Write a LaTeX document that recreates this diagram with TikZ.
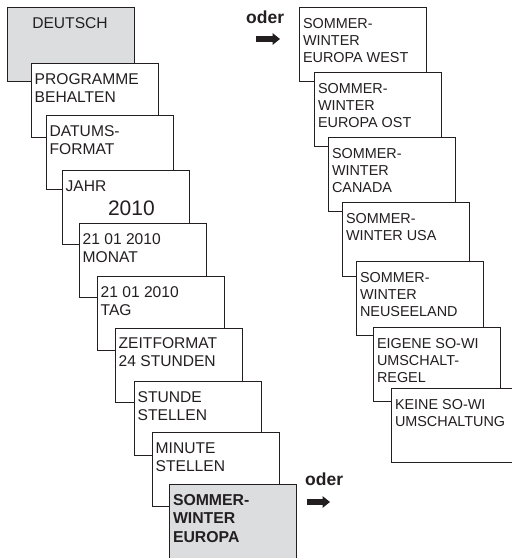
\documentclass[tikz,border=0pt]{standalone}
\usepackage{fontspec}
\setmainfont{Liberation Sans}
\usetikzlibrary{arrows.meta}
\definecolor{boxgrey}{RGB}{220,221,223}
\definecolor{ink}{RGB}{35,31,32}
\begin{document}
\begin{tikzpicture}[x=1pt,y=-1pt,
  panel/.style={draw=ink, line width=0.9pt, fill=white, minimum width=127.5pt, minimum height=74.5pt, inner sep=0pt, outer sep=0pt, anchor=north west},
  greypanel/.style={panel, fill=boxgrey},
  txt/.style={anchor=base west, inner sep=0pt, outer sep=0pt, text=ink, font=\fontsize{15.6pt}{18pt}\selectfont},
  rtxt/.style={txt, font=\fontsize{14.4pt}{17pt}\selectfont},
  bigtxt/.style={txt, font=\fontsize{21pt}{24pt}\selectfont},
  boldtxt/.style={txt, font=\fontsize{15.8pt}{18.5pt}\selectfont\bfseries},
  odertxt/.style={anchor=base west, inner sep=0pt, text=ink, font=\fontsize{17.5pt}{20pt}\selectfont\bfseries},
  blockarrow/.style={draw=ink, line width=6pt, -{Triangle[length=7.5pt,width=11.5pt]}}
]
\useasboundingbox (0,0) rectangle (512,558);
\clip (0,0) rectangle (512,558);

% left column
\node[greypanel] (b1) at (7,7) {};
\node[txt] (t1) at ([xshift=25.3pt,yshift=-21pt]b1.north west) {DEUTSCH};

\node[panel] (b2) at (31,63) {};
\node[txt] (t2) at ([xshift=3.7pt,yshift=-21pt]b2.north west) {\parbox[t]{120pt}{PROGRAMME\\BEHALTEN}};

\node[panel] (b3) at (46,115) {};
\node[txt] (t3) at ([xshift=3.7pt,yshift=-21.5pt]b3.north west) {\parbox[t]{120pt}{DATUMS-\\FORMAT}};

\node[panel] (b4) at (62,170) {};
\node[txt] (t4) at ([xshift=3.7pt,yshift=-21pt]b4.north west) {JAHR};
\node[bigtxt] (t4b) at ([xshift=46pt,yshift=-45pt]b4.north west) {2010};

\node[panel] (b5) at (79,223) {};
\node[txt] (t5) at ([xshift=3.7pt,yshift=-21pt]b5.north west) {\parbox[t]{120pt}{21 01 2010\\MONAT}};

\node[panel] (b6) at (97,276) {};
\node[txt] (t6) at ([xshift=3.7pt,yshift=-21pt]b6.north west) {\parbox[t]{120pt}{21 01 2010\\TAG}};

\node[panel] (b7) at (115,328) {};
\node[txt] (t7) at ([xshift=3.7pt,yshift=-20.5pt]b7.north west) {\parbox[t]{120pt}{ZEITFORMAT\\24 STUNDEN}};

\node[panel] (b8) at (134,381) {};
\node[txt] (t8) at ([xshift=3.7pt,yshift=-21pt]b8.north west) {\parbox[t]{120pt}{STUNDE\\STELLEN}};

\node[panel] (b9) at (152,432) {};
\node[txt] (t9) at ([xshift=3.7pt,yshift=-21pt]b9.north west) {\parbox[t]{120pt}{MINUTE\\STELLEN}};

\node[greypanel] (b10) at (169,484) {};
\node[boldtxt] (t10) at ([xshift=4pt,yshift=-21pt]b10.north west) {\parbox[t]{120pt}{SOMMER-\\WINTER\\EUROPA}};

% right column
\node[panel] (r1) at (299,7) {};
\node[rtxt] (u1) at ([xshift=4pt,yshift=-21pt]r1.north west) {\parbox[t]{122pt}{SOMMER-\\WINTER\\EUROPA WEST}};

\node[panel] (r2) at (314,72) {};
\node[rtxt] (u2) at ([xshift=4pt,yshift=-21pt]r2.north west) {\parbox[t]{122pt}{SOMMER-\\WINTER\\EUROPA OST}};

\node[panel] (r3) at (328,137) {};
\node[rtxt] (u3) at ([xshift=4pt,yshift=-21pt]r3.north west) {\parbox[t]{122pt}{SOMMER-\\WINTER\\CANADA}};

\node[panel] (r4) at (342,202) {};
\node[rtxt] (u4) at ([xshift=4pt,yshift=-21pt]r4.north west) {\parbox[t]{122pt}{SOMMER-\\WINTER USA}};

\node[panel] (r5) at (356,261) {};
\node[rtxt] (u5) at ([xshift=4pt,yshift=-21pt]r5.north west) {\parbox[t]{122pt}{SOMMER-\\WINTER\\NEUSEELAND}};

\node[panel] (r6) at (373,327) {};
\node[rtxt] (u6) at ([xshift=4pt,yshift=-21pt]r6.north west) {\parbox[t]{122pt}{EIGENE SO-WI\\UMSCHALT-\\REGEL}};

\node[panel] (r7) at (391,388) {};
\node[rtxt] (u7) at ([xshift=4pt,yshift=-21pt]r7.north west) {\parbox[t]{122pt}{KEINE SO-WI\\UMSCHALTUNG}};

% oder labels and arrows
\node[odertxt] (oder1) at (246,23) {oder};
\coordinate (a1s) at (256,39);
\coordinate (a1e) at (280,39);
\draw[blockarrow] (a1s) -- (a1e);

\node[odertxt] (oder2) at (305,485) {oder};
\coordinate (a2s) at (307,502);
\coordinate (a2e) at (330,502);
\draw[blockarrow] (a2s) -- (a2e);
\end{tikzpicture}
\end{document}
